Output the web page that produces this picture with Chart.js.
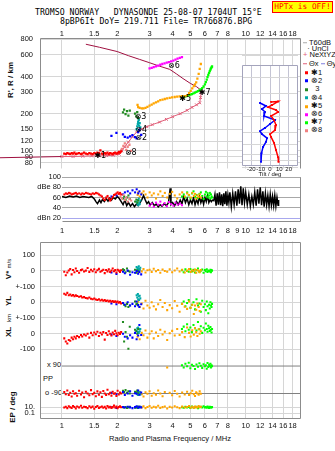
<!DOCTYPE html>
<html>
<head>
<meta charset="utf-8">
<script src="https://cdn.jsdelivr.net/npm/chart.js@4.4.0/dist/chart.umd.min.js"></script>
<style>
  body { margin: 0; background: #fff; width: 335px; height: 451px; overflow: hidden; position: relative;
         font-family: "Liberation Sans", Arial, sans-serif; color: #111; }
  canvas { position: absolute; }
  .t { position: absolute; white-space: pre; line-height: 1; font-size: 7.5px; transform: translateY(-50%); }
  .mono { font-family: "DejaVu Sans Mono", monospace; font-size: 8.2px; color: #000; }
  .rot { position: absolute; white-space: pre; line-height: 1; font-size: 8px; font-weight: bold;
         transform: translate(-50%, -50%) rotate(-90deg); }
  .sm { font-size: 6px; font-weight: normal; }
  .lg { position: absolute; left: 303px; white-space: pre; line-height: 1; font-size: 7.5px; transform: translateY(-50%); }
  .lg i { display: inline-block; width: 3px; height: 3px; margin: 0 3px 0 2px; vertical-align: middle; }
  .lg b { display: inline-block; width: 4px; height: 1px; margin-right: 2px; vertical-align: middle; }
  #hptx { position: absolute; left: 272px; top: 1px; width: 59px; height: 10px; border: 1px solid #f00; background: #ff0;
          color: #f00; font-family: "DejaVu Sans Mono", monospace; font-size: 7.8px; line-height: 10px; text-align: center; }
</style>
</head>
<body>
<div class="t mono" style="left:35px;top:12px">TROMSO NORWAY   DYNASONDE 25-08-07 1704UT 15°E</div>
<div class="t mono" style="left:60px;top:21px">8pBP6It DoY= 219.711 File= TR766876.BPG</div>
<div id="hptx">HPTx is OFF!</div>

<div class="lg" style="top:42.5px"><b style="background:#aaa"></b>T60dB</div>
<div class="lg" style="top:48.7px">  · UnCl</div>
<div class="lg" style="top:55.3px"><span style="color:#e0607a">+</span> NeXtYZ</div>
<div class="lg" style="top:63.5px"><b style="background:#e0607a"></b>Θx <b style="background:#8080e0"></b>Θy</div>
<div class="lg" style="top:72.5px"><i style="background:#ff0000"></i>✱1</div>
<div class="lg" style="top:80.7px"><i style="background:#0000ff"></i>⊗2</div>
<div class="lg" style="top:89.3px"><i style="background:#228b22"></i>  3</div>
<div class="lg" style="top:97.8px"><i style="background:#00a8a8"></i>⊗4</div>
<div class="lg" style="top:106px"><i style="background:#ffa500"></i>✱5</div>
<div class="lg" style="top:114px"><i style="background:#ff00ff"></i>⊗6</div>
<div class="lg" style="top:122.3px"><i style="background:#00ff00"></i>✱7</div>
<div class="lg" style="top:130px"><i style="background:#f08080"></i>⊗8</div>

<div class="rot" style="left:11px;top:80px">R', R / km</div>
<div class="rot" style="left:9px;top:269px">V* <span class="sm">m/s</span></div>
<div class="rot" style="left:9px;top:301px">YL</div>
<div class="rot sm" style="left:9px;top:318px">km</div>
<div class="rot" style="left:9px;top:332px">XL</div>
<div class="rot" style="left:13px;top:407px">EP / deg</div>
<div class="t" style="left:43px;top:379px">PP</div>
<div class="t" style="left:47px;top:365px">x 90</div>
<div class="t" style="left:45px;top:393px">o -90</div>
<div class="t" style="left:170px;top:439px;transform:translate(-50%,-50%);font-size:7.6px">Radio and Plasma Frequency / MHz</div>

<script>
// ---- axes ----
const freqTicks = [1, 1.5, 2, 3, 4, 5, 6, 7, 8, 10, 12, 14, 16, 18];
const freqTicksDb = [1, 1.5, 2, 3, 4, 5, 6, 7, 8, 9, 10, 12, 14, 16, 18];
const heightTicks = [80, 90, 100, 120, 150, 200, 300, 400, 600, 800];
const tiltTicks = [-20, -10, 0, 10, 20];
const dbTicks = [100, 80, 60, 40, 20];
const dbLabels = ['100', 'dBe 80', '60', '40', 'dBn 20'];
const lowerTicks = [500, 400, 300, 200, 100, 0, -100, -468.75, -506.25];
const lowerLabels = ['100', '0', '+-100', '0', '+-100', '0', '-100', '10.', '0.1'];

// ---- echo classes: frequency (MHz), virtual height (km), amplitude (dB), V* (m/s), YL, XL (km), PP, EP (deg) ----
const redF = [1.03,1.05,1.07,1.09,1.11,1.13,1.15,1.17,1.19,1.21,1.24,1.27,1.29,1.32,1.35,1.38,1.41,1.44,1.47,1.5,1.53,1.56,1.59,1.62,1.65,1.68,1.71,1.74,1.77,1.8,1.83,1.86,1.89,1.92,1.95,1.98,2.01,2.04,2.07,2.1];
const redH = [95,94,96,95,94,96,95,97,94,95,96,94,95,97,95,94,96,95,94,96,95,97,96,101,95,94,96,95,97,94,96,95,94,96,97,95,96,98,97,99];
const redDB = [66,68,67,69,68,66,67,68,69,67,68,66,68,67,69,68,67,66,68,67,69,68,66,64,62,58,55,60,63,58,54,57,61,65,66,68,70,67,69,66];
const redV = [-5,-28,-10,3,12,-22,6,-8,15,0,-12,5,9,-4,2,18,-6,7,-2,11,-9,4,13,-5,1,8,-14,6,-3,10,-7,3,16,-2,5,-10,8,2,-6,4];
const redYL = [55,48,60,45,50,42,46,38,44,40,35,38,30,33,28,25,30,22,20,24,18,15,20,12,16,10,14,8,12,5,10,4,8,2,6,0,5,-3,2,-8];
const redXL = [-30,-50,-62,-40,-45,-25,-35,-20,-30,-15,-22,-8,-18,-5,-12,0,-25,5,-10,8,-3,12,-15,6,-5,10,-38,4,-8,15,0,-12,8,-4,18,2,-10,6,-2,10];
const redPP = [-80,-95,-70,-100,-85,-110,-75,-92,-88,-105,-72,-96,-84,-115,-78,-90,-102,-68,-94,-86,-108,-76,-98,-82,-112,-74,-90,-100,-66,-95,-85,-104,-78,-92,-88,-106,-72,-96,-84,-90];
const redEP = [8,15,5,20,10,6,25,12,4,18,9,30,7,14,11,5,22,8,16,3,12,28,6,10,19,7,13,4,24,9,15,6,11,35,8,17,5,12,20,10];

const blueF = [1.86,1.98,2.15,2.2,2.28,2.35,2.42,2.5,2.55,2.6,2.64,2.7];
const blueH = [132,140,136,130,128,131,134,129,126,142,148,135];
const blueDB = [62,64,66,70,72,68,74,70,76,68,72,66];
const blueV = [-10,-20,-5,-15,2,-25,-8,-12,0,-18,-6,-22];
const blueYL = [-8,-12,-5,-15,0,-20,-10,-25,5,-18,-30,-12];
const blueXL = [-5,-15,0,-20,-30,-10,-25,5,-35,-12,55,-8];
const bluePP = [-85,-95,-80,-100,-90,-75,-105,-88,-92,-70,-98,-84];
const blueEP = [10,6,12,8,15,9,5,11,20,7,13,9];

const greenF = [2.15,2.18,2.22,2.26,2.3,2.34,2.5,2.54,2.57,2.6];
const greenH = [205,216,198,210,193,212,200,190,206,184];
const greenDB = [58,62,55,60,64,57,52,56,50,54];
const greenV = [10,5,-8,15,0,-5,8,-12,3,-2];
const greenYL = [-5,-15,-25,-10,-30,-20,5,-12,-8,-18];
const greenXL = [75,-50,10,-20,-96,44,25,15,0,30];
const greenPP = [-72,-80,-68,-85,-75,-90,-78,-82,-70,-88];
const greenEP = [10,8,12,6,9,14,7,11,10,13];

const tealF = [2.55,2.57,2.59,2.6,2.62,2.63,2.65,2.67];
const tealH = [150,158,165,172,178,160,168,155];
const tealDB = [52,48,55,45,58,50,47,54];
const tealV = [25,10,18,5,30,12,8,20];
const tealYL = [45,30,52,20,38,15,42,25];
const tealXL = [20,35,10,40,5,28,15,30];
const tealPP = [-85,-95,-78,-100,-88,-92,-80,-96];
const tealEP = [9,12,7,14,10,8,11,13];

const orangeF = [2.58,2.6,2.65,2.72,2.78,2.85,2.92,3.0,3.08,3.16,3.25,3.34,3.43,3.53,3.63,3.74,3.86,3.98,4.11,4.24,4.37,4.51,4.66,4.8,4.92,5.02,5.12,5.22,5.3,5.38,5.46,5.55,5.62,5.7];
const orangeH = [236,226,223,221,221,223,227,232,237,242,247,252,257,260,263,266,269,271,273,275,276,277,278,282,293,306,320,335,345,358,385,420,461,505];
const orangeDB = [65,70,62,68,72,66,60,70,64,68,58,66,72,63,69,60,67,71,64,58,66,70,62,68,65,60,69,63,67,58,64,61,66,60];
const orangeV = [5,-8,10,-3,12,-10,4,8,-6,14,-2,6,-12,9,0,-5,11,-8,3,15,-4,7,-10,2,12,-6,4,-2,9,-12,6,0,-8,5];
const orangeYL = [-15,5,-30,-8,-40,10,-20,-35,0,-25,-45,-12,15,-30,-5,-50,-18,-38,8,-22,-60,-10,-28,-42,5,-35,-15,-75,-20,-48,-8,-30,-55,-12];
const orangeXL = [-20,10,-35,5,-10,20,-25,0,15,-30,8,-15,25,-5,12,-40,3,18,-12,30,-8,10,-22,40,5,-18,22,-6,35,10,-15,28,0,15];
const orangePP = [-85,-100,-78,-95,-110,-82,-92,-75,-105,-88,-98,-70,-90,-108,-80,80,-86,-102,-74,-92,-110,-84,-96,-78,-100,-88,-72,-94,-106,-82,-90,-98,-76,-92];
const orangeEP = [10,6,15,8,20,5,12,25,7,14,9,30,6,11,18,4,13,8,22,10,5,16,9,12,28,7,15,6,19,11,8,24,10,13];

const magentaF = [3.0,3.08,3.16,3.25,3.34,3.43,3.52,3.62,3.72,3.82,3.93,4.04,4.15,4.26,4.38,4.5];
const magentaH = [465,470,476,483,490,498,505,512,518,524,530,538,548,558,566,575];
const magentaDB = [44,48,42,50,46,52,45,49,43,51,47,44,50,46,48,45];

const limeF = [4.5,4.6,4.7,4.8,4.9,5.0,5.1,5.2,5.3,5.4,5.5,5.6,5.7,5.8,5.9,6.0,6.07,6.14,6.2,6.26,6.32,6.38,6.43,6.47,6.52,6.56];
const limeH = [270,273,276,279,282,285,288,292,296,300,304,309,315,322,332,345,360,378,395,412,428,442,455,465,475,482];
const limeDB = [62,66,60,70,64,58,68,72,61,65,59,67,70,63,57,66,71,62,68,60,64,69,58,66,62,60];
const limeV = [5,-8,10,0,-5,12,-3,8,-10,4,15,-6,2,9,-12,6,-2,11,-7,3,0,-4,7,-9,5,1];
const limeYL = [-10,5,-25,-5,15,-35,-15,0,-45,20,-20,-8,-60,10,-30,-12,-50,5,-25,-70,-15,-40,0,-20,-30,-10];
const limeXL = [30,45,15,60,25,40,10,55,35,20,75,28,48,5,38,22,65,30,12,50,35,18,42,25,8,30];
const limePP = [95,80,105,88,112,75,98,90,70,100,85,108,92,78,102,88,95,72,110,84,98,90,105,80,95,88];
const limeEP = [10,7,14,9,12,6,18,8,11,15,5,10,13,8,20,9,12,7,16,10,6,14,9,11,8,12];

const pinkF = [2.08,2.12,2.16,2.2,2.24,2.28,2.33,2.38];
const pinkH = [98,104,110,115,102,108,112,100];
const pinkDB = [62,58,65,55,60,52,57,54];

// unclassified echo amplitude
const blackF = [1.0,1.05,1.1,1.15,1.2,1.25,1.3,1.35,1.4,1.45,1.5,
  1.53,1.56,1.6,1.63,1.66,1.7,1.74,1.78,1.82,1.86,1.9,1.95,2.0,
  2.05,2.1,2.15,2.2,2.25,2.3,2.36,2.42,2.48,2.54,2.6,2.66,2.72,2.78,2.84,2.9,2.96,3.02,
  3.1,3.18,3.26,3.34,3.42,3.5,3.6,3.7,3.8,3.88,3.92,4.0,
  4.1,4.2,4.3,4.4,4.5,4.6,4.7,4.8,4.9,5.0,5.1,5.2,5.3,5.4,5.5,5.6,5.7,5.8,5.9,6.0,
  6.1,6.2,6.3,6.4,6.5,6.6,6.7,6.8,6.9,7.0,7.1,7.2,7.3,7.4,7.5,7.6,7.7,7.8,7.9,8.0,8.1,8.2,
  8.35,8.5,8.65,8.8,8.95,9.1,9.25,9.4,9.55,9.7,9.85,10.0,
  10.2,10.4,10.6,10.8,11.0,11.2,11.4,11.6,11.8,12.0,12.2,12.4,12.6,12.8,13.0,13.2,13.4,13.6,13.8,14.0,14.2,14.4,14.6,14.8,15.0,
  15.1];
const blackDB = [62,60,63,61,63,60,62,61,60,62,57,
  52,48,55,50,56,52,58,53,59,55,60,57,62,
  58,52,46,55,44,50,43,48,42,47,44,50,56,64,55,48,52,45,
  50,44,47,42,46,43,48,44,50,78,46,50,
  44,52,46,55,48,62,50,58,46,55,48,60,46,56,48,62,50,58,47,60,
  52,64,50,56,52,55,54,66,44,68,46,70,45,66,43,68,47,72,44,65,50,70,
  42,68,46,72,44,76,48,82,45,78,50,70,
  46,66,43,62,46,70,44,76,48,80,45,72,42,68,46,64,43,66,45,62,44,64,43,60,45,
  55];

// model trace and true-height profile
const modelF = [1.35,1.6,2.0,2.3,2.65,3.0,3.4,3.86,4.2,4.56,5.0,5.4,5.8];
const modelH = [730,690,637,590,550,517,485,457,420,385,352,331,305];
const modelLowF = [0.46,1.0];
const modelLowH = [88,90];
const nexF = [1.0,1.15,1.3,1.45,1.6,1.75,1.9,2.05,2.12,2.2,2.3,2.42,2.55,2.72,2.9,3.1,3.4,3.7,4.0,4.4,4.8,5.1,5.4,5.62,5.68,5.72];
const nexH = [90,90,90.5,91,91,91.5,92,94,100,108,118,130,142,150,157,163,171,180,189,200,213,225,236,245,270,300];

// tilt profiles (deg vs km)
const thetaXTilt = [1.1,8.6,2.1,-2.1,6.4,8.6,1.1,4.3,6.4,5.4,0,1.1,4.3,6.4,8.6,9.1];
const thetaXH = [259,261,245,236,224,216,201,187,171,156,145,138,124,109,96,88];
const thetaYTilt = [-10.7,-4.3,-8.6,-5.4,-6.4,5.4,0,-5.4,-10.7,-8.6,-3.2,-4.3,-7.5,-9.1,-9.6];
const thetaYH = [254,241,228,216,201,187,174,162,153,145,135,126,115,103,88];

// echo labels on the ionogram
const markF = [1.57, 2.3, 2.62, 2.62, 2.6, 4.55, 3.95, 5.8];
const markH = [91, 97, 128, 148, 190, 265, 488, 295];
const markText = ['✱1', '⊗8', '⊗2', '⊗4', '⊗3', '✱5', '⊗6', '✱7'];

const COL = { red: '#ff0000', blue: '#0000ff', green: '#228b22', teal: '#00a8a8', orange: '#ffa500',
              magenta: '#ff00ff', lime: '#00ff00', pink: '#f08080', model: '#a01040', nex: '#e0607a' };

// ---- helpers ----
const FONT = "'Liberation Sans', Arial, sans-serif";
const tickFont = { family: FONT, size: 7.5 };
const fixW = w => s => { s.width = w; };
const fixH = h => s => { s.height = h; };
const setTicks = list => s => { s.ticks = list.map(v => ({ value: v })); };
const pts = (xs, ys, map) => xs.map((x, i) => ({ x: x, y: map ? map(ys[i]) : ys[i] }));

function dots(color, data, r) {
    return { data: data, backgroundColor: color, pointBackgroundColor: color, pointBorderWidth: 0,
             borderWidth: 0, pointStyle: 'rect', pointRadius: r || 1.45, order: 1 };
}

function mk(id, left, top, w, h) {
    const c = document.createElement('canvas');
    c.id = id; c.width = w; c.height = h;
    c.style.left = left + 'px'; c.style.top = top + 'px';
    c.style.width = w + 'px'; c.style.height = h + 'px';
    document.body.appendChild(c);
    return c;
}

const frame = {
    id: 'frame',
    afterDraw(chart, args, opts) {
        const a = chart.chartArea, ctx = chart.ctx, s = opts.sides || 'ltrb';
        const l = Math.round(a.left) + 0.5, r = Math.round(a.right) - 0.5;
        const t = Math.round(a.top) + 0.5, b = Math.round(a.bottom) - 0.5;
        ctx.save();
        ctx.strokeStyle = opts.color || '#8c8c8c';
        ctx.lineWidth = 1;
        ctx.beginPath();
        if (s.includes('l')) { ctx.moveTo(l, t); ctx.lineTo(l, b); }
        if (s.includes('r')) { ctx.moveTo(r, t); ctx.lineTo(r, b); }
        if (s.includes('t')) { ctx.moveTo(l, t); ctx.lineTo(r, t); }
        if (s.includes('b')) { ctx.moveTo(l, b); ctx.lineTo(r, b); }
        ctx.stroke();
        ctx.restore();
    }
};

const whiteBg = {
    id: 'whiteBg',
    beforeDraw(chart) {
        const a = chart.chartArea;
        chart.ctx.save();
        chart.ctx.fillStyle = '#fff';
        chart.ctx.fillRect(a.left, a.top, a.right - a.left, a.bottom - a.top);
        chart.ctx.restore();
    }
};

const marks = {
    id: 'marks',
    afterDatasetsDraw(chart) {
        const ctx = chart.ctx, x = chart.scales.x, y = chart.scales.y;
        ctx.save();
        ctx.font = "8px 'DejaVu Sans'";
        ctx.fillStyle = '#000';
        ctx.textBaseline = 'middle';
        ctx.textAlign = 'left';
        markF.forEach((f, i) => ctx.fillText(markText[i], x.getPixelForValue(f) - 3.5, y.getPixelForValue(markH[i])));
        ctx.restore();
    }
};

const base = {
    responsive: false, animation: false, events: [],
    plugins: { legend: { display: false }, tooltip: { enabled: false } }
};

function freqAxis(list, position, height, pad, grid) {
    return {
        type: 'logarithmic', position: position, min: 0.76, max: 20,
        afterBuildTicks: setTicks(list), afterFit: fixH(height),
        ticks: { font: tickFont, color: '#111', padding: pad, autoSkip: false, maxRotation: 0, callback: v => String(v) },
        grid: grid === false ? { display: false, drawTicks: false } : { color: '#d6d6d6', drawTicks: false },
        border: { display: false }
    };
}

// ---- main ionogram ----
new Chart(mk('main', 0, 0, 335, 180), {
    type: 'scatter',
    data: { datasets: [
        dots(COL.red, pts(redF, redH), 1.6),
        dots(COL.pink, pts(pinkF, pinkH), 1.6),
        dots(COL.blue, pts(blueF, blueH), 1.6),
        dots(COL.green, pts(greenF, greenH), 1.6),
        dots(COL.teal, pts(tealF, tealH), 1.6),
        dots(COL.orange, pts(orangeF, orangeH), 1.6),
        dots(COL.magenta, pts(magentaF, magentaH), 1.6),
        dots(COL.lime, pts(limeF, limeH), 1.6),
        { data: pts(modelF, modelH), showLine: true, borderColor: COL.model, borderWidth: 1, pointRadius: 0, order: 3 },
        { data: pts(modelLowF, modelLowH), showLine: true, borderColor: COL.model, borderWidth: 1, pointRadius: 0, clip: false, order: 3 },
        { data: pts(nexF, nexH), showLine: true, borderColor: COL.nex, borderWidth: 1, pointStyle: 'crossRot',
          pointRadius: 2, pointBorderColor: COL.nex, pointBorderWidth: 1, order: 2 }
    ] },
    options: Object.assign({}, base, {
        layout: { padding: { top: 0, left: 0, right: 34, bottom: 7 } },
        scales: {
            x: freqAxis(freqTicks, 'top', 38, 0),
            y: {
                type: 'logarithmic', min: 72, max: 820,
                afterBuildTicks: setTicks(heightTicks), afterFit: fixW(40),
                ticks: { font: tickFont, color: '#111', padding: 7, autoSkip: false, callback: v => String(v) },
                grid: { color: '#d6d6d6', drawTicks: false }, border: { display: false }
            }
        },
        plugins: Object.assign({}, base.plugins, { frame: { sides: 'ltr' } })
    }),
    plugins: [frame, marks]
});

// ---- tilt inset ----
new Chart(mk('tilt', 230, 55, 75, 125), {
    type: 'scatter',
    data: { datasets: [
        { data: pts(thetaXTilt, thetaXH), showLine: true, borderColor: COL.red, borderWidth: 1.5,
          pointStyle: 'rect', pointRadius: 1.3, pointBackgroundColor: COL.red, pointBorderWidth: 0 },
        { data: pts(thetaYTilt, thetaYH), showLine: true, borderColor: COL.blue, borderWidth: 1.5,
          pointStyle: 'rect', pointRadius: 1.3, pointBackgroundColor: COL.blue, pointBorderWidth: 0 }
    ] },
    options: Object.assign({}, base, {
        layout: { padding: { top: 10, left: 12, right: 7, bottom: 2 } },
        scales: {
            x: {
                type: 'linear', min: -30, max: 30, afterBuildTicks: setTicks(tiltTicks), afterFit: fixH(12),
                ticks: { font: { family: FONT, size: 6 }, color: '#111', padding: 0, autoSkip: false, maxRotation: 0 },
                grid: { color: '#c4c4d4', drawTicks: false }, border: { display: false },
                title: { display: true, text: 'Tilt / deg', font: { family: FONT, size: 6 }, color: '#111', padding: 0 }
            },
            y: {
                type: 'logarithmic', min: 81.7, max: 504, afterBuildTicks: setTicks(heightTicks), afterFit: fixW(0),
                ticks: { display: false }, grid: { color: '#d6d6d6', drawTicks: false }, border: { display: false }
            }
        },
        plugins: Object.assign({}, base.plugins, { frame: { sides: 'ltrb', color: '#a4a4bc' } })
    }),
    plugins: [whiteBg, frame]
});

// ---- amplitude panel ----
new Chart(mk('amp', 0, 160, 335, 80), {
    type: 'scatter',
    data: { datasets: [
        dots(COL.red, pts(redF, redDB)),
        dots(COL.pink, pts(pinkF, pinkDB)),
        dots(COL.blue, pts(blueF, blueDB)),
        dots(COL.green, pts(greenF, greenDB)),
        dots(COL.teal, pts(tealF, tealDB)),
        dots(COL.orange, pts(orangeF, orangeDB)),
        dots(COL.magenta, pts(magentaF, magentaDB)),
        dots(COL.lime, pts(limeF, limeDB)),
        { data: pts(blackF, blackDB), showLine: true, borderColor: '#000', borderWidth: 1.5, pointRadius: 0, order: 9 }
    ] },
    options: Object.assign({}, base, {
        layout: { padding: { top: 17, left: 0, right: 34, bottom: 0 } },
        scales: {
            x: Object.assign(freqAxis(freqTicksDb, 'bottom', 18, 4, false), { min: 1 }),
            y: {
                type: 'linear', min: 12.2, max: 100, afterBuildTicks: setTicks(dbTicks), afterFit: fixW(62),
                ticks: { font: tickFont, color: '#111', padding: 1, autoSkip: false,
                         callback: v => dbLabels[dbTicks.indexOf(v)] },
                grid: { color: c => (c.tick && c.tick.value === 20 ? '#a8a8ee' : '#a8a8a8'), drawTicks: false },
                border: { display: false }
            }
        },
        plugins: Object.assign({}, base.plugins, { frame: { sides: 'rb' } })
    }),
    plugins: [frame]
});

// ---- drift / polarisation panel ----
const ppPos = v => -293.75 + v * 175 / 180;
const epPos = v => -506.25 + (Math.log10(v) + 1) * 18.75;
function lowerPts(F, V, YL, XL, PP, EP) {
    return [].concat(pts(F, V, v => 400 + v), pts(F, YL, v => 200 + v), pts(F, XL),
                     pts(F, PP, ppPos), pts(F, EP, epPos));
}
const ppRefF = [1, 20];
const ppRefX = [90, 90];
const ppRefO = [-90, -90];

new Chart(mk('lower', 0, 232, 335, 219), {
    type: 'scatter',
    data: { datasets: [
        dots(COL.red, lowerPts(redF, redV, redYL, redXL, redPP, redEP)),
        dots(COL.blue, lowerPts(blueF, blueV, blueYL, blueXL, bluePP, blueEP)),
        dots(COL.green, lowerPts(greenF, greenV, greenYL, greenXL, greenPP, greenEP)),
        dots(COL.teal, lowerPts(tealF, tealV, tealYL, tealXL, tealPP, tealEP)),
        dots(COL.orange, lowerPts(orangeF, orangeV, orangeYL, orangeXL, orangePP, orangeEP)),
        dots(COL.lime, lowerPts(limeF, limeV, limeYL, limeXL, limePP, limeEP)),
        { data: pts(ppRefF, ppRefX, ppPos), showLine: true, borderColor: '#808080', borderWidth: 1, pointRadius: 0, order: 9 },
        { data: pts(ppRefF, ppRefO, ppPos), showLine: true, borderColor: '#808080', borderWidth: 1, pointRadius: 0, order: 9 }
    ] },
    options: Object.assign({}, base, {
        layout: { padding: { top: 6, left: 0, right: 34, bottom: 0 } },
        scales: {
            x: freqAxis(freqTicks, 'bottom', 32, 2),
            y: {
                type: 'linear', min: -543.75, max: 587.5, afterBuildTicks: setTicks(lowerTicks), afterFit: fixW(40),
                ticks: { font: tickFont, color: '#111', padding: 5, autoSkip: false,
                         callback: v => lowerLabels[lowerTicks.indexOf(v)] },
                grid: { color: '#d6d6d6', drawTicks: false }, border: { display: false }
            }
        },
        plugins: Object.assign({}, base.plugins, { frame: { sides: 'ltrb' } })
    }),
    plugins: [frame]
});
</script>
</body>
</html>
